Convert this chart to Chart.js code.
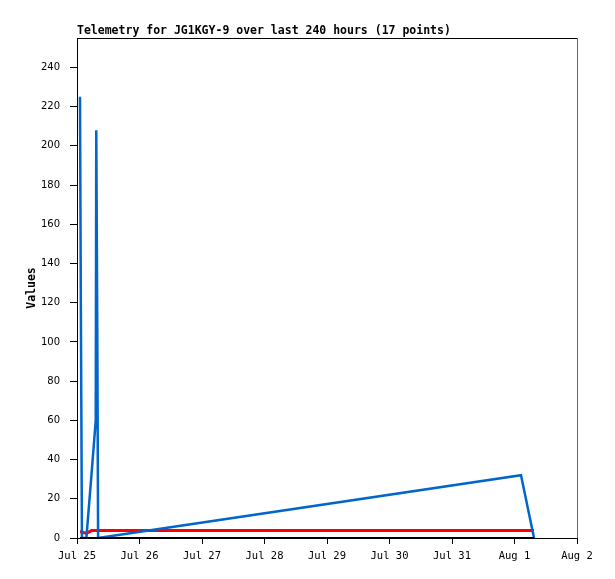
<!DOCTYPE html>
<html>
<head>
<meta charset="utf-8">
<title>Telemetry JG1KGY-9</title>
<script src="https://cdn.jsdelivr.net/npm/chart.js@4.4.1/dist/chart.umd.min.js"></script>
<style>
    html, body { margin: 0; padding: 0; background: #ffffff; }
    #chart { display: block; }
</style>
</head>
<body>
<canvas id="chart" width="615" height="579"></canvas>
<script>
// Hours since Jul 25 00:00 for each packet
const hours = [1.15, 1.5, 1.9, 3.6, 5.6, 7.2, 7.4, 7.8, 8.1, 170.5, 175.5];
// Telemetry channels
const blueValues = [225, 112, 0, 0, 33, 60, 208, 104, 0, 32, 0];
const redValues = [3.2, 3.2, 3.0, 2.4, 3.8, 3.8, 3.8, 3.8, 3.8, 3.8, 3.8];
const blackValues = [0, 0, 0, 0, 0, 0, 0, 0, 0, 0, 0];
// X tick labels, one per day
const dayLabels = ['Jul 25', 'Jul 26', 'Jul 27', 'Jul 28', 'Jul 29', 'Jul 30', 'Jul 31', 'Aug 1', 'Aug 2'];
const yTicks = [0, 20, 40, 60, 80, 100, 120, 140, 160, 180, 200, 220, 240];

const titleText = 'Telemetry for JG1KGY-9 over last 240 hours (17 points)';

function toPoints(values) {
    return hours.map((h, i) => ({ x: h, y: values[i] }));
}

// Draws the title, y label and the top/right frame
const framePlugin = {
    id: 'frame',
    afterDraw(chart) {
        const ctx = chart.ctx;
        const area = chart.chartArea;
        ctx.save();
        ctx.lineWidth = 1;
        ctx.strokeStyle = '#000000';
        ctx.beginPath();
        ctx.moveTo(area.left, area.top + 0.5);
        ctx.lineTo(area.right, area.top + 0.5);
        ctx.stroke();
        ctx.strokeStyle = '#666666';
        ctx.beginPath();
        ctx.moveTo(area.right + 0.5, area.top);
        ctx.lineTo(area.right + 0.5, area.bottom);
        ctx.stroke();

        ctx.fillStyle = '#000000';
        ctx.font = 'bold 11.5px "DejaVu Sans Mono", monospace';
        ctx.textAlign = 'left';
        ctx.textBaseline = 'alphabetic';
        ctx.fillText(titleText, area.left, 34);

        ctx.translate(32, (area.top + area.bottom) / 2);
        ctx.rotate(-Math.PI / 2);
        ctx.textAlign = 'center';
        ctx.textBaseline = 'middle';
        ctx.fillText('Values', 0, 0);
        ctx.restore();
    }
};

const ctx = document.getElementById('chart').getContext('2d');
new Chart(ctx, {
    type: 'line',
    data: {
        datasets: [
            {
                label: 'ch3',
                data: toPoints(blackValues),
                borderColor: '#000000',
                borderWidth: 2
            },
            {
                label: 'ch1',
                data: toPoints(blueValues),
                borderColor: '#0066cc',
                borderWidth: 2.5
            },
            {
                label: 'ch2',
                data: toPoints(redValues),
                borderColor: '#ff0000',
                borderWidth: 3
            }
        ]
    },
    options: {
        responsive: false,
        animation: false,
        devicePixelRatio: 1,
        elements: {
            point: { radius: 0, hoverRadius: 0 },
            line: { tension: 0, borderJoinStyle: 'miter' }
        },
        layout: {
            padding: { top: 38, right: 38, left: 0, bottom: 0 }
        },
        plugins: {
            legend: { display: false },
            tooltip: { enabled: false },
            title: { display: false }
        },
        scales: {
            x: {
                type: 'linear',
                min: 0,
                max: 192,
                afterFit(scale) { scale.height = 41; },
                afterBuildTicks(scale) {
                    scale.ticks = dayLabels.map((_, i) => ({ value: i * 24 }));
                },
                border: { display: true, color: '#000000', width: 1 },
                grid: {
                    drawOnChartArea: false,
                    drawTicks: true,
                    tickLength: 6,
                    tickColor: '#000000',
                    color: '#000000'
                },
                ticks: {
                    autoSkip: false,
                    maxRotation: 0,
                    padding: 6,
                    color: '#000000',
                    font: { family: '"DejaVu Sans Mono", monospace', size: 10.5 },
                    callback: (value) => dayLabels[Math.round(value / 24)]
                }
            },
            y: {
                type: 'linear',
                min: 0,
                max: 255,
                afterFit(scale) { scale.width = 77; },
                afterBuildTicks(scale) {
                    scale.ticks = yTicks.map(v => ({ value: v }));
                },
                border: { display: true, color: '#000000', width: 1 },
                grid: {
                    drawOnChartArea: false,
                    drawTicks: true,
                    tickLength: 7,
                    tickColor: '#000000',
                    color: '#000000'
                },
                ticks: {
                    padding: 10,
                    color: '#000000',
                    font: { family: '"DejaVu Sans", sans-serif', size: 10 }
                }
            }
        }
    },
    plugins: [framePlugin]
});
</script>
</body>
</html>
